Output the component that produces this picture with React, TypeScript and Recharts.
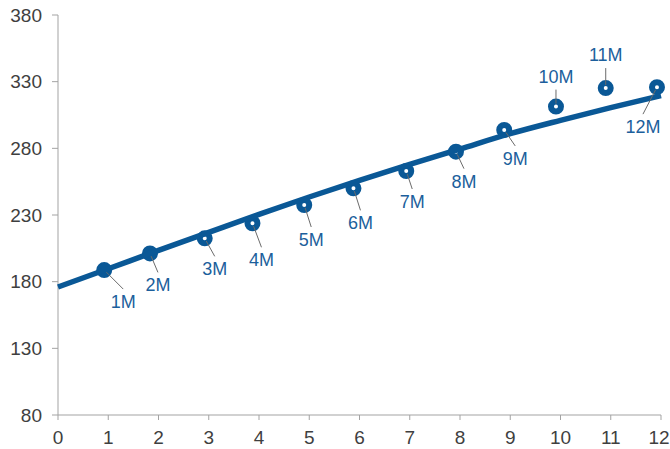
import { ComposedChart, Line, Scatter, XAxis, YAxis } from "recharts";

// readings (months since start)
const monthX = [0.92, 1.83, 2.92, 3.87, 4.9, 5.88, 6.93, 7.92, 8.88, 9.91, 10.9, 11.92];
const monthY = [188.7, 201.2, 212.5, 223.8, 237.5, 250, 263, 277.5, 293.8, 311.3, 325.2, 325.9];
const monthLabels = ["1M", "2M", "3M", "4M", "5M", "6M", "7M", "8M", "9M", "10M", "11M", "12M"];

// fitted trend line
const trendX = [0, 1, 2, 3, 4, 5, 6, 7, 8, 9, 10, 11, 12];
const trendY = [176, 189.7, 203.5, 217, 230.5, 243.5, 256, 268, 279.5, 291, 301, 310.5, 319.5];

const xTicks = [0, 1, 2, 3, 4, 5, 6, 7, 8, 9, 10, 11, 12];
const yTicks = [80, 130, 180, 230, 280, 330, 380];

// label placement relative to each marker (dx, dy of text centre)
const labelOffsets: [number, number][] = [
  [19, 32], [8, 32], [10, 31], [9, 37], [7, 35], [7, 35],
  [6, 31], [8, 30], [11, 29], [0, -30], [0, -33], [-14, 40],
];

const BLUE = "#0a5896";
const LABEL_BLUE = "#1c5f9c";
const AXIS = "#a3a3a3";
const FONT = "'Liberation Sans', Arial, sans-serif";

const points = monthX.map((x, i) => ({ x, y: monthY[i], label: monthLabels[i], i }));
const trend = trendX.map((x, i) => ({ x, y: trendY[i] }));

function Ring(props: any) {
  const { cx, cy } = props;
  if (cx == null || cy == null) return null;
  return <circle cx={cx} cy={cy} r={5} fill="#ffffff" stroke={BLUE} strokeWidth={6} />;
}

function Callout(props: any) {
  const { cx, cy, payload } = props;
  if (cx == null || cy == null) return null;
  const [dx, dy] = labelOffsets[payload.i];
  const sign = dy < 0 ? -1 : 1;
  const ex = dx;
  const ey = dy - sign * 13;
  const len = Math.hypot(ex, ey) || 1;
  return (
    <g>
      <line
        x1={cx + (ex / len) * 3}
        y1={cy + (ey / len) * 3}
        x2={cx + ex}
        y2={cy + ey}
        stroke="#6b6b6b"
        strokeWidth={1}
      />
      <text
        x={cx + dx}
        y={cy + dy}
        textAnchor="middle"
        dominantBaseline="central"
        fill={LABEL_BLUE}
        fontSize={18}
        fontFamily={FONT}
      >
        {payload.label}
      </text>
    </g>
  );
}

function XTick(props: any) {
  const { x, y, payload } = props;
  // keep the last label inside the frame
  const shift = payload.value === 12 ? -2 : 0;
  return (
    <text x={x + shift} y={y} dy="0.71em" textAnchor="middle" fill="#3f3f3f" fontSize={19} fontFamily={FONT}>
      {payload.value}
    </text>
  );
}

export default function App() {
  return (
    <div style={{ position: "absolute", left: 0, top: 0, background: "#fff" }}>
      <ComposedChart width={670} height={449} margin={{ top: 15, right: 9, left: 0, bottom: 0 }}>
        <XAxis
          type="number"
          dataKey="x"
          domain={[0, 12]}
          ticks={xTicks}
          interval={0}
          height={34}
          stroke={AXIS}
          tickSize={5}
          tickMargin={11}
          tick={<XTick />}
        />
        <YAxis
          type="number"
          dataKey="y"
          domain={[80, 380]}
          ticks={yTicks}
          interval={0}
          width={58}
          stroke={AXIS}
          tickSize={6}
          tickMargin={10}
          tick={{ fill: "#3f3f3f", fontSize: 19, fontFamily: FONT }}
        />
        <Scatter data={points} dataKey="y" shape={Ring} isAnimationActive={false} zIndex={500} />
        <Line
          data={trend}
          dataKey="y"
          type="monotone"
          stroke={BLUE}
          strokeWidth={5.5}
          dot={false}
          activeDot={false}
          isAnimationActive={false}
          zIndex={600}
        />
        <Scatter data={points} dataKey="y" shape={Callout} isAnimationActive={false} zIndex={700} />
      </ComposedChart>
    </div>
  );
}
